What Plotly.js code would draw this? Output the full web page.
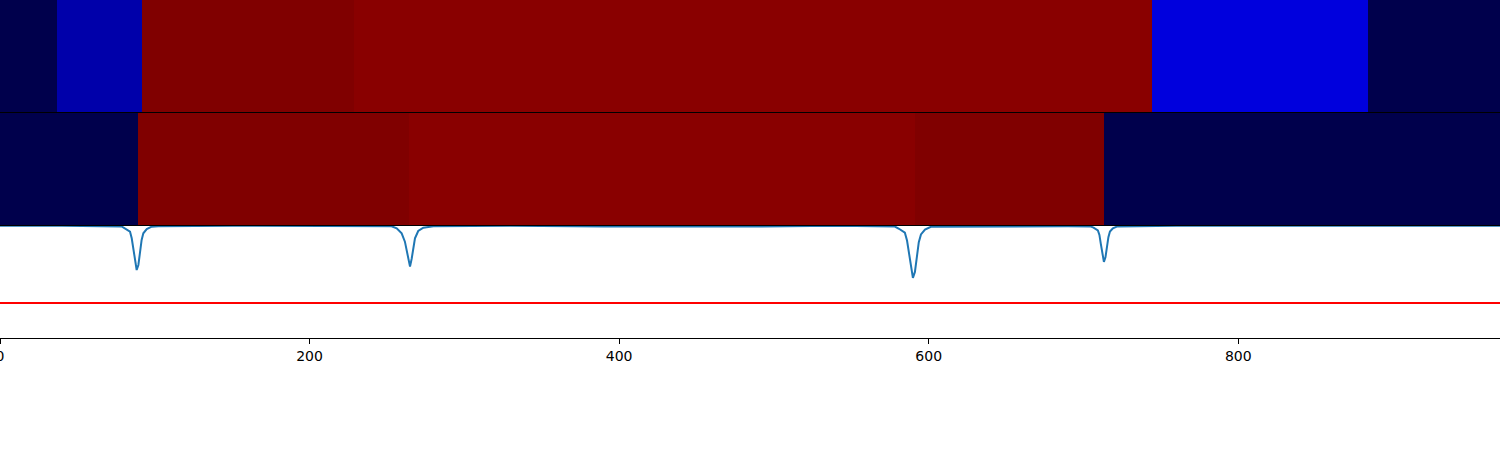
<!DOCTYPE html>
<html>
<head>
<meta charset="utf-8">
<script src="https://cdn.plot.ly/plotly-3.0.1.min.js"></script>
<style>html,body{margin:0;padding:0;background:#fff;}#chart{width:1500px;height:450px;}</style>
</head>
<body>
<div id="chart"></div>
<script>
// Top strip: segment edges (x) and colour values (seismic scale 0..1)
var topEdges = [0, 36.8, 91.7, 228.7, 744.0, 883.6, 969.1];
var topValues = [0.0, 0.131, 1.0, 0.983, 0.202, 0.0];
// Middle strip
var midEdges = [0, 89.0, 264.4, 591.1, 713.2, 969.1];
var midValues = [0.0, 1.0, 0.983, 1.0, 0.0];
// Bottom line series
var lineX = [0, 40, 78.6, 80.8, 84.0, 85.1, 86.1, 87.2, 88.3, 89.4, 90.4, 91.5, 92.6, 94.8, 98.0, 102.3, 150, 200,
             253.0, 256.3, 259.5, 261.6, 263.1, 264.4, 264.9, 266.0, 267.0, 268.1, 270.2, 273.5, 280, 330, 390, 440, 490, 540,
             578.2, 580.8, 584.6, 586.0, 587.2, 588.5, 589.8, 591.1, 592.3, 593.6, 595.0, 597.6, 601.4, 650, 690,
             704.5, 706.5, 709.3, 710.3, 711.2, 712.2, 713.2, 714.2, 715.1, 716.1, 717.1, 719.0, 721.9, 760, 820, 900, 969.1];
var lineY = [1.003, 1.003, 0.996, 0.979, 0.949, 0.89, 0.80, 0.68, 0.607, 0.652, 0.77, 0.875, 0.935, 0.973, 0.994, 0.998, 1.002, 1.003,
             0.998, 0.979, 0.935, 0.86, 0.77, 0.68, 0.637, 0.71, 0.815, 0.89, 0.955, 0.985, 0.997, 1.002, 0.996, 0.993, 0.995, 1.002,
             0.995, 0.975, 0.94, 0.87, 0.765, 0.62, 0.536, 0.59, 0.73, 0.855, 0.925, 0.968, 0.993, 0.998, 0.997,
             0.996, 0.985, 0.96, 0.92, 0.84, 0.75, 0.68, 0.72, 0.82, 0.90, 0.95, 0.98, 0.996, 1.003, 1.003, 1.003, 1.003];
var threshold = 0.3125;
var xMax = 969.1;
var xTicks = [0, 200, 400, 600, 800];

var seismic = [[0, 'rgb(0,0,76)'], [0.25, 'rgb(0,0,255)'], [0.5, 'rgb(255,255,255)'], [0.75, 'rgb(255,0,0)'], [1, 'rgb(128,0,0)']];

var traces = [
  {type: 'heatmap', x: topEdges, y: [0], z: [topValues], colorscale: seismic, zmin: 0, zmax: 1, showscale: false, xaxis: 'x', yaxis: 'y', hoverinfo: 'skip'},
  {type: 'heatmap', x: midEdges, y: [0], z: [midValues], colorscale: seismic, zmin: 0, zmax: 1, showscale: false, xaxis: 'x2', yaxis: 'y2', hoverinfo: 'skip'},
  {type: 'scatter', mode: 'lines', x: lineX, y: lineY, line: {color: '#1f77b4', width: 2}, xaxis: 'x3', yaxis: 'y3', hoverinfo: 'skip'},
  {type: 'scatter', mode: 'lines', x: [0, xMax], y: [threshold, threshold], line: {color: '#ff0000', width: 2}, xaxis: 'x3', yaxis: 'y3', hoverinfo: 'skip'}
];

function hiddenX(anchor) {
  return {range: [0, xMax], anchor: anchor, showline: true, mirror: true, linecolor: '#000', linewidth: 1,
          showgrid: false, zeroline: false, ticks: '', showticklabels: false};
}
function hiddenY(domain, range) {
  return {domain: domain, range: range, showline: true, mirror: true, linecolor: '#000', linewidth: 1,
          showgrid: false, zeroline: false, ticks: '', showticklabels: false};
}

var layout = {
  width: 1500, height: 450,
  margin: {l: 0, r: 0, t: 0, b: 112},
  paper_bgcolor: '#fff', plot_bgcolor: '#fff',
  showlegend: false,
  font: {family: 'DejaVu Sans', size: 14, color: '#000'},
  xaxis: hiddenX('y'),
  xaxis2: hiddenX('y2'),
  xaxis3: {range: [0, xMax], anchor: 'y3', showline: true, mirror: true, linecolor: '#000', linewidth: 1,
           showgrid: false, zeroline: false, ticks: 'outside', ticklen: 5, tickwidth: 1, tickcolor: '#000',
           ticklabeloverflow: 'allow',
           tickvals: xTicks, ticktext: xTicks.map(String), tickfont: {family: 'DejaVu Sans', size: 14, color: '#000'}},
  yaxis: hiddenY([0.6686, 1], [-0.5, 0.5]),
  yaxis2: hiddenY([0.3343, 0.6657], [-0.5, 0.5]),
  yaxis3: hiddenY([0, 0.3314], [0, 1])
};

Plotly.newPlot('chart', traces, layout, {staticPlot: true, displayModeBar: false});
</script>
</body>
</html>
